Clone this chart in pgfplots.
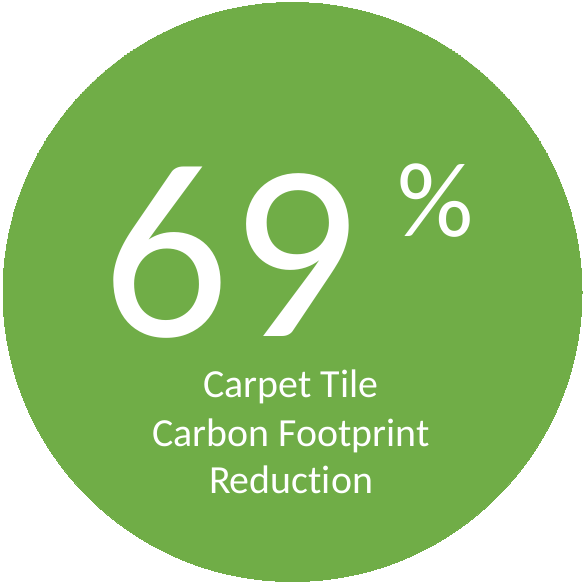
\documentclass[border=0pt]{standalone}
\usepackage{pgfplots}
\pgfplotsset{compat=1.18}
\usepackage{fontspec}
\setmainfont{Carlito}[Ligatures={NoCommon,NoRare,NoDiscretionary,NoContextual}]
\definecolor{ogreen}{HTML}{70AD47}
\begin{document}
\begin{tikzpicture}
\useasboundingbox (0,0) rectangle (585bp,583bp);
\begin{axis}[
  at={(0,0)}, anchor=south west,
  scale only axis, width=585bp, height=583bp,
  xmin=0, xmax=585, ymin=0, ymax=583,
  hide axis, clip=false]
\addplot[ogreen, only marks, mark=*, mark size=289.5bp, mark options={fill=ogreen, draw=ogreen, line width=0pt}] coordinates {(292.5,291)};
\coordinate (n69) at (axis cs:230,246);
\coordinate (npc) at (axis cs:436,346);
\coordinate (l1) at (axis cs:291,185);
\coordinate (l2) at (axis cs:291,136);
\coordinate (l3) at (axis cs:291,89);
\end{axis}
\node[anchor=base, text=white, inner sep=0pt, text depth=0pt, font=\fontsize{252}{252}\selectfont] at (n69) {69};
\node[anchor=base, text=white, inner sep=0pt, font=\fontsize{107}{107}\selectfont] at (npc) {\%};
\node[anchor=base, text=white, inner sep=0pt, font=\fontsize{40}{48}\selectfont] at (l1) {Carpet Tile};
\node[anchor=base, text=white, inner sep=0pt, font=\fontsize{40}{48}\selectfont] at (l2) {Carbon Footprint};
\node[anchor=base, text=white, inner sep=0pt, font=\fontsize{40}{48}\selectfont] at (l3) {Reduction};
\end{tikzpicture}
\end{document}
